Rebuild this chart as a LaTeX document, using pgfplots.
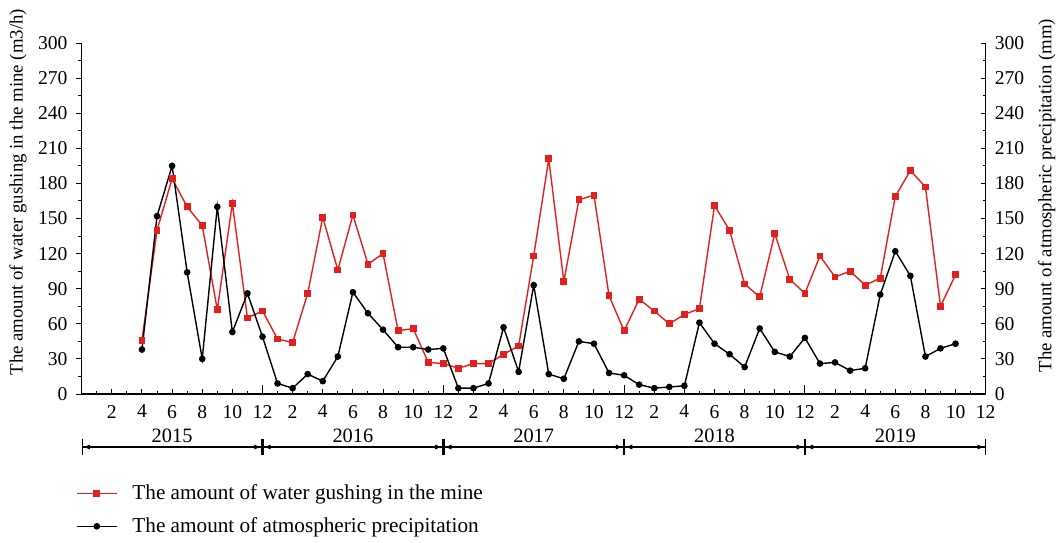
\documentclass[border=0pt]{standalone}
\usepackage{pgfplots}
\pgfplotsset{compat=1.18}
\usepackage{fontspec}
\setmainfont{Liberation Serif}
\usetikzlibrary{arrows.meta}
\definecolor{wred}{RGB}{226,32,30}
\pgfplotstableread{
m v
4 46
5 140
6 184
7 160
8 144
9 72
10 163
11 65
12 71
13 47
14 44
15 86
16 151
17 106
18 153
19 111
20 120
21 54
22 56
23 27
24 26
25 22
26 26
27 26
28 34
29 41
30 118
31 201
32 96
33 166
34 170
35 84
36 54
37 81
38 71
39 60
40 68
41 73
42 161
43 140
44 94
45 83
46 137
47 98
48 86
49 118
50 100
51 105
52 93
53 99
54 169
55 191
56 177
57 75
58 102
}\water
\pgfplotstableread{
m v
4 38
5 152
6 195
7 104
8 30
9 160
10 53
11 86
12 49
13 9
14 5
15 17
16 11
17 32
18 87
19 69
20 55
21 40
22 40
23 38
24 39
25 5
26 5
27 9
28 57
29 19
30 93
31 17
32 13
33 45
34 43
35 18
36 16
37 8
38 5
39 6
40 7
41 61
42 43
43 34
44 23
45 56
46 36
47 32
48 48
49 26
50 27
51 20
52 22
53 85
54 122
55 101
56 32
57 39
58 43
}\rain
\tikzset{yrarrow/.style={line width=0.6pt, {Bar[width=8pt]Latex[length=3.5pt,width=2.6pt]}-{Latex[length=3.5pt,width=2.6pt]Bar[width=8pt]}},
  yrlabel/.style={anchor=base, font=\fontsize{10.2}{12}\selectfont, inner sep=0pt}}
\begin{document}
\begin{tikzpicture}
\pgfplotsset{
  every axis/.append style={
    width=452pt, height=175.5pt, scale only axis,
    xmin=0, xmax=60, ymin=0, ymax=300,
    axis line style={-, line width=0.6pt},
    major tick length=2.6pt, minor tick length=1.6pt,
    tick style={black, line width=0.5pt},
    ticklabel style={font=\fontsize{9.8}{11}\selectfont},
    /pgf/number format/assume math mode=true,
    label style={font=\fontsize{9.4}{11}\selectfont},
  }
}
\begin{axis}[
  axis x line*=bottom, axis y line*=left,
  xtick={2,4,...,60},
  xticklabels={2,4,6,8,10,12,2,4,6,8,10,12,2,4,6,8,10,12,2,4,6,8,10,12,2,4,6,8,10,12},
  minor xtick={1,3,...,59},
  xtick align=inside,
  ytick align=outside,
  ytick={0,30,...,300},
  minor ytick={15,45,...,285},
  xticklabel style={yshift=-2pt},
  yticklabel style={xshift=-1pt},
  extra x ticks={12,24,36,48},
  extra x tick labels={},
  extra x tick style={major tick length=4.5pt},
  ylabel={The amount of water gushing in the mine (m3/h)},
  ylabel style={at={(axis description cs:-0.0705,0.575)}, anchor=center},
  clip=false,
  legend style={at={(rel axis cs:0,0)}, anchor=north west, xshift=-3pt, yshift=-43pt,
    draw=none, fill=none, row sep=3.5pt, font=\fontsize{10.6}{12}\selectfont,
    legend cell align=left, inner sep=0pt},
  legend image code/.code={\draw[mark repeat=2,mark phase=2] plot coordinates {(0pt,0pt) (10pt,0pt) (20pt,0pt)}; \path (25.5pt,0pt);},
]
\addplot[color=wred, line width=0.7pt, mark=square*, mark size=1.35pt, mark options={solid}] table[x=m,y=v] {\water};
\addlegendentry{The amount of water gushing in the mine}
\addplot[color=black, line width=0.7pt, mark=*, mark size=1.3pt] table[x=m,y=v] {\rain};
\addlegendentry{The amount of atmospheric precipitation}
\draw[yrarrow] ([yshift=-26.5pt]axis cs:0,0) -- ([yshift=-26.5pt]axis cs:12,0);
\draw[yrarrow] ([yshift=-26.5pt]axis cs:12,0) -- ([yshift=-26.5pt]axis cs:24,0);
\draw[yrarrow] ([yshift=-26.5pt]axis cs:24,0) -- ([yshift=-26.5pt]axis cs:36,0);
\draw[yrarrow] ([yshift=-26.5pt]axis cs:36,0) -- ([yshift=-26.5pt]axis cs:48,0);
\draw[yrarrow] ([yshift=-26.5pt]axis cs:48,0) -- ([yshift=-26.5pt]axis cs:60,0);
\node[yrlabel] at ([yshift=-24.3pt]axis cs:6,0) {2015};
\node[yrlabel] at ([yshift=-24.3pt]axis cs:18,0) {2016};
\node[yrlabel] at ([yshift=-24.3pt]axis cs:30,0) {2017};
\node[yrlabel] at ([yshift=-24.3pt]axis cs:42,0) {2018};
\node[yrlabel] at ([yshift=-24.3pt]axis cs:54,0) {2019};
\end{axis}
\begin{axis}[
  axis y line*=right, axis x line=none,
  ytick align=inside,
  ytick={0,30,...,300},
  minor ytick={15,45,...,285},
  yticklabel style={xshift=1pt},
  ylabel={The amount of atmospheric precipitation (mm)},
  ylabel style={at={(axis description cs:1.0675,0.565)}, anchor=center, rotate=0},
]
\end{axis}
\pgfresetboundingbox
\path (-40.85pt,-74pt) rectangle (491.15pt,197pt);
\end{tikzpicture}
\end{document}
